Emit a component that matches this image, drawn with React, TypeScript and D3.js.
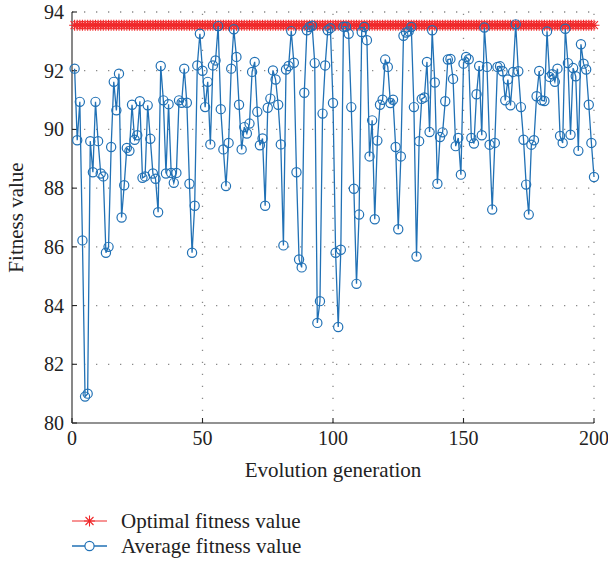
import React, { useEffect, useRef } from "react";
import * as d3 from "d3";

// average fitness per generation (1..200)
const averageFitness: number[] = [
  92.07, 89.63, 90.94, 86.22, 80.9, 81.0, 89.6, 88.54, 90.94, 89.6,
  88.5, 88.4, 85.8, 86.0, 89.4, 91.62, 90.65, 91.9, 87.0, 88.1,
  89.37, 89.27, 90.84, 89.65, 89.8, 90.96, 88.35, 88.4, 90.82, 89.68,
  88.5, 88.32, 87.18, 92.16, 90.99, 88.5, 90.86, 88.52, 88.18, 88.52,
  90.99, 90.91, 92.07, 90.91, 88.15, 85.8, 87.4, 92.18, 93.26, 92.0,
  90.76, 91.62, 89.49, 92.18, 92.35, 93.52, 90.69, 89.32, 88.07, 89.54,
  92.07, 93.41, 92.47, 90.84, 89.32, 90.08, 89.86, 90.2, 91.96, 92.3,
  90.6, 89.46, 89.69, 87.4, 90.74, 91.05, 92.01, 91.7, 90.84, 89.49,
  86.05, 92.04, 92.16, 93.35, 92.27, 88.54, 85.57, 85.3, 91.25, 93.38,
  93.49, 93.53, 92.26, 83.41, 84.15, 90.54, 92.18, 93.38, 93.45, 90.9,
  85.8, 83.27, 85.9, 93.5, 93.5, 93.26, 90.76, 87.98, 84.74, 87.1,
  93.32, 93.49, 93.04, 89.08, 90.31, 86.94, 89.62, 90.84, 91.01, 92.38,
  92.13, 90.9, 91.01, 89.4, 86.6, 89.08, 93.19, 93.3, 93.34, 93.49,
  90.76, 85.67, 89.6, 91.04, 91.09, 92.3, 89.91, 93.38, 91.6, 88.15,
  89.74, 89.9, 90.96, 92.38, 92.4, 91.72, 89.43, 89.71, 88.46, 92.24,
  92.47, 92.39, 89.71, 89.52, 91.2, 92.16, 89.8, 93.47, 92.13, 89.48,
  87.27, 89.54, 92.13, 92.15, 91.98, 90.99, 91.7, 90.82, 91.96, 93.58,
  91.98, 90.76, 89.65, 88.12, 87.1, 89.48, 89.63, 91.13, 91.99, 90.99,
  90.97, 93.34, 91.79, 91.88, 91.62, 92.07, 89.78, 89.54, 93.43, 92.26,
  89.82, 92.09, 91.81, 89.27, 92.9, 92.24, 92.04, 90.84, 89.54, 88.38,
];
const optimalValue = 93.55;
const generations: number[] = averageFitness.map((_, i) => i + 1);
const optimalFitness: number[] = generations.map(() => optimalValue);

const xTicks = [0, 50, 100, 150, 200];
const yTicks = [80, 82, 84, 86, 88, 90, 92, 94];
const legendLabels = ["Optimal fitness value", "Average fitness value"];

const RED = "#f0282a";
const BLUE = "#2171b5";
const FONT = "'Liberation Serif', 'Times New Roman', serif";

const App: React.FC = () => {
  const svgRef = useRef<SVGSVGElement | null>(null);

  useEffect(() => {
    if (!svgRef.current) return;
    const svg = d3.select(svgRef.current);
    svg.selectAll("*").remove();

    const left = 72, right = 594, top = 12, bottom = 423;
    const x = d3.scaleLinear().domain([0, 200]).range([left, right]);
    const y = d3.scaleLinear().domain([80, 94]).range([bottom, top]);

    // dotted grid
    const grid = svg.append("g")
      .attr("stroke", "#8a8a8a")
      .attr("stroke-width", 1.3)
      .attr("stroke-dasharray", "1.3,10.7");
    yTicks.filter((t) => t !== 80).forEach((t) => {
      grid.append("line").attr("x1", left).attr("x2", right)
        .attr("y1", y(t)).attr("y2", y(t));
    });
    xTicks.filter((t) => t !== 0).forEach((t) => {
      grid.append("line").attr("x1", x(t)).attr("x2", x(t))
        .attr("y1", bottom).attr("y2", top);
    });

    // axes (box off, ticks inside)
    const axes = svg.append("g").attr("stroke", "#262626").attr("stroke-width", 1.1);
    axes.append("line").attr("x1", left).attr("x2", left).attr("y1", top).attr("y2", bottom);
    axes.append("line").attr("x1", left).attr("x2", right).attr("y1", bottom).attr("y2", bottom);
    yTicks.forEach((t) => {
      axes.append("line").attr("x1", left).attr("x2", left + 5).attr("y1", y(t)).attr("y2", y(t));
    });
    xTicks.forEach((t) => {
      axes.append("line").attr("x1", x(t)).attr("x2", x(t)).attr("y1", bottom).attr("y2", bottom - 5);
    });

    svg.append("g").selectAll("text").data(yTicks).enter().append("text")
      .attr("x", left - 8).attr("y", (d) => y(d)).attr("dy", "0.35em")
      .attr("text-anchor", "end").attr("font-size", 20).attr("font-family", FONT)
      .attr("fill", "#222").text((d) => d);
    svg.append("g").selectAll("text").data(xTicks).enter().append("text")
      .attr("x", (d) => x(d)).attr("y", 445)
      .attr("text-anchor", "middle").attr("font-size", 20).attr("font-family", FONT)
      .attr("fill", "#222").text((d) => d);

    svg.append("text").attr("x", (left + right) / 2).attr("y", 477)
      .attr("text-anchor", "middle").attr("font-size", 21).attr("font-family", FONT)
      .attr("fill", "#222").text("Evolution generation");
    svg.append("text").attr("transform", `translate(23,${(top + bottom) / 2}) rotate(-90)`)
      .attr("text-anchor", "middle").attr("font-size", 21).attr("font-family", FONT)
      .attr("fill", "#222").text("Fitness value");

    const line = d3.line<number>().x((_, i) => x(generations[i])).y((d) => y(d));

    const asterisk = (g: d3.Selection<SVGGElement, unknown, null, undefined>, cx: number, cy: number) => {
      const r = 5.5, rd = 4;
      const p = `M${cx - r},${cy}H${cx + r}M${cx},${cy - r}V${cy + r}` +
        `M${cx - rd},${cy - rd}L${cx + rd},${cy + rd}M${cx - rd},${cy + rd}L${cx + rd},${cy - rd}`;
      g.append("path").attr("d", p).attr("stroke", RED).attr("stroke-width", 1.1).attr("fill", "none");
    };

    // optimal fitness
    svg.append("path").attr("d", line(optimalFitness) || "")
      .attr("fill", "none").attr("stroke", RED).attr("stroke-width", 1.2);
    const stars = svg.append("g");
    optimalFitness.forEach((v, i) => asterisk(stars, x(generations[i]), y(v)));

    // average fitness
    svg.append("path").attr("d", line(averageFitness) || "")
      .attr("fill", "none").attr("stroke", BLUE).attr("stroke-width", 1.3);
    svg.append("g").selectAll("circle").data(averageFitness).enter().append("circle")
      .attr("cx", (_, i) => x(generations[i])).attr("cy", (d) => y(d)).attr("r", 4.6)
      .attr("fill", "none").attr("stroke", BLUE).attr("stroke-width", 1.2);

    // legend
    const legend = svg.append("g");
    const ly = [521, 546];
    legend.append("line").attr("x1", 72).attr("x2", 107).attr("y1", ly[0]).attr("y2", ly[0])
      .attr("stroke", RED).attr("stroke-width", 1.2);
    asterisk(legend, 89.5, ly[0]);
    legend.append("line").attr("x1", 72).attr("x2", 107).attr("y1", ly[1]).attr("y2", ly[1])
      .attr("stroke", BLUE).attr("stroke-width", 1.3);
    legend.append("circle").attr("cx", 89.5).attr("cy", ly[1]).attr("r", 4.6)
      .attr("fill", "white").attr("stroke", BLUE).attr("stroke-width", 1.2);
    legendLabels.forEach((lab, i) => {
      legend.append("text").attr("x", 121).attr("y", ly[i]).attr("dy", "0.33em")
        .attr("font-size", 21).attr("font-family", FONT).attr("fill", "#222").text(lab);
    });
  }, []);

  return (
    <svg ref={svgRef} width={608} height={563}
      style={{ position: "absolute", left: 0, top: 0, background: "white" }} />
  );
};

export default App;
